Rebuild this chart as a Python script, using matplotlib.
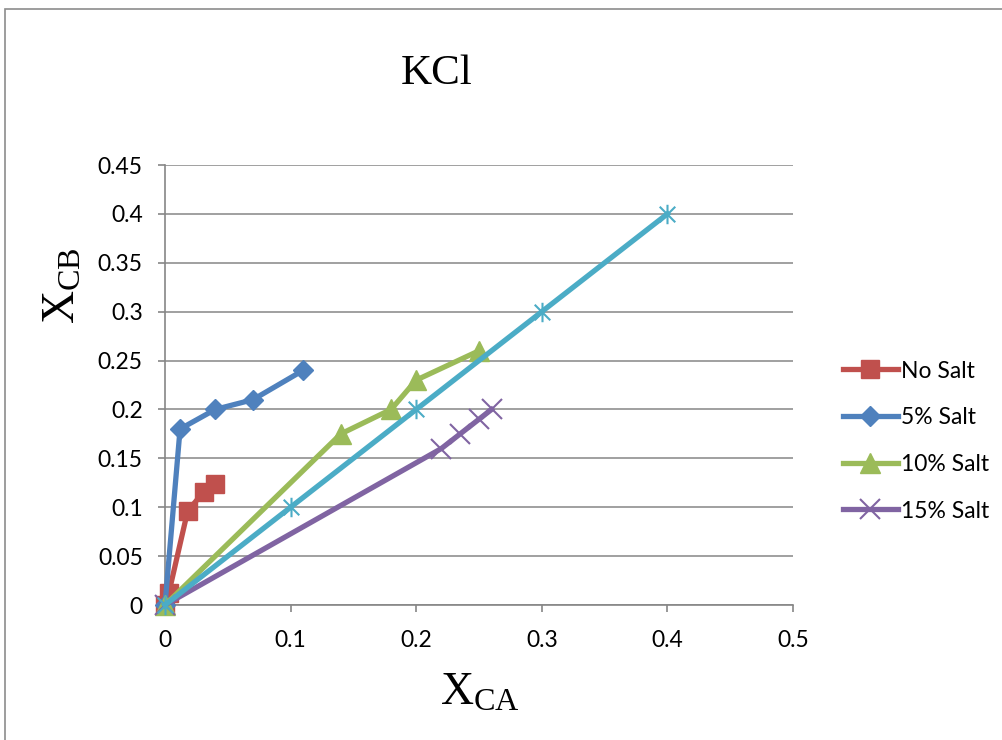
import matplotlib
matplotlib.use('Agg')
import matplotlib.pyplot as plt
from matplotlib.path import Path
from matplotlib.patches import Rectangle

# tie-line data for KCl, mole fractions of component C in phase A and phase B
no_salt_x = [0, 0.003, 0.018, 0.031, 0.04]
no_salt_y = [0, 0.012, 0.096, 0.116, 0.124]

salt5_x = [0, 0.012, 0.04, 0.07, 0.11]
salt5_y = [0, 0.18, 0.2, 0.21, 0.24]

salt10_x = [0, 0.14, 0.18, 0.2, 0.25]
salt10_y = [0, 0.175, 0.2, 0.23, 0.26]

salt15_x = [0, 0.22, 0.235, 0.25, 0.26]
salt15_y = [0, 0.16, 0.175, 0.19, 0.2]

diag_x = [0, 0.1, 0.2, 0.3, 0.4]
diag_y = [0, 0.1, 0.2, 0.3, 0.4]

xticks_vals = [0, 0.1, 0.2, 0.3, 0.4, 0.5]
xtick_labels = ['0', '0.1', '0.2', '0.3', '0.4', '0.5']
yticks_vals = [0, 0.05, 0.1, 0.15, 0.2, 0.25, 0.3, 0.35, 0.4, 0.45]
ytick_labels = ['0', '0.05', '0.1', '0.15', '0.2', '0.25', '0.3', '0.35', '0.4', '0.45']

plt.rcParams['font.family'] = ['Lato', 'DejaVu Sans']
plt.rcParams['mathtext.fontset'] = 'custom'
plt.rcParams['mathtext.rm'] = 'Liberation Serif'
plt.rcParams['mathtext.it'] = 'Liberation Serif:italic'

grey = '#868686'

# excel style asterisk: vertical stroke plus an x
star = Path([(0, -1), (0, 1), (-0.8, -0.8), (0.8, 0.8), (-0.8, 0.8), (0.8, -0.8)],
            [Path.MOVETO, Path.LINETO, Path.MOVETO, Path.LINETO, Path.MOVETO, Path.LINETO])

fig = plt.figure(figsize=(10.03, 7.4), dpi=100)
ax = fig.add_axes([165 / 1003, 135 / 740, 628 / 1003, 440 / 740])

lw = 3.8
ax.plot(no_salt_x, no_salt_y, color='#C0504D', lw=lw, marker='s', ms=13,
        label='No Salt', clip_on=False, zorder=3)
ax.plot(salt5_x, salt5_y, color='#4F81BD', lw=lw, marker='D', ms=10,
        label='5% Salt', clip_on=False, zorder=3)
ax.plot(salt10_x, salt10_y, color='#9BBB59', lw=lw, marker='^', ms=14,
        label='10% Salt', clip_on=False, zorder=3)
ax.plot(salt15_x, salt15_y, color='#8064A2', lw=lw, marker='x', ms=14, mew=1.5,
        label='15% Salt', clip_on=False, zorder=3)
ax.plot(diag_x, diag_y, color='#4BACC6', lw=lw, marker=star, ms=14, mew=1.5,
        clip_on=False, zorder=3)

ax.set_xlim(0, 0.5)
ax.set_ylim(0, 0.45)
ax.set_xticks(xticks_vals)
ax.set_xticklabels(xtick_labels)
ax.set_yticks(yticks_vals)
ax.set_yticklabels(ytick_labels)
ax.tick_params(axis='both', labelsize=16.5, color=grey, width=1.2, length=5, direction='out')
ax.tick_params(axis='x', pad=13)
ax.tick_params(axis='y', pad=11)

ax.yaxis.grid(True, color=grey, lw=1.1)
ax.set_axisbelow(True)
for side in ['top', 'right']:
    ax.spines[side].set_visible(False)
for side in ['left', 'bottom']:
    ax.spines[side].set_color(grey)
    ax.spines[side].set_linewidth(1.2)

fig.text(437 / 1003, 1 - 84 / 740, 'KCl', family='Liberation Serif', fontsize=31,
         ha='center', va='baseline')
fig.text(480 / 1003, 1 - 692 / 740, r'$\mathrm{X}_{\mathrm{CA}}$', fontsize=33,
         ha='center', va='center')
fig.text(62 / 1003, 1 - 286 / 740, r'$\mathrm{X}_{\mathrm{CB}}$', fontsize=33,
         ha='center', va='center', rotation=90)

ax.legend(loc='center left', bbox_to_anchor=(843 / 1003, 1 - 441 / 740),
          bbox_transform=fig.transFigure, frameon=False, fontsize=16.5,
          handlelength=2.4, handletextpad=0.15, labelspacing=1.12,
          borderpad=0, borderaxespad=0)

# chart border
fig.add_artist(Rectangle((5 / 1003, -0.05), 1.2, 1.05 - 8.5 / 740,
                         transform=fig.transFigure, fill=False,
                         edgecolor='#8c8c8c', lw=1.2))

fig.savefig('out.png', dpi=100)
